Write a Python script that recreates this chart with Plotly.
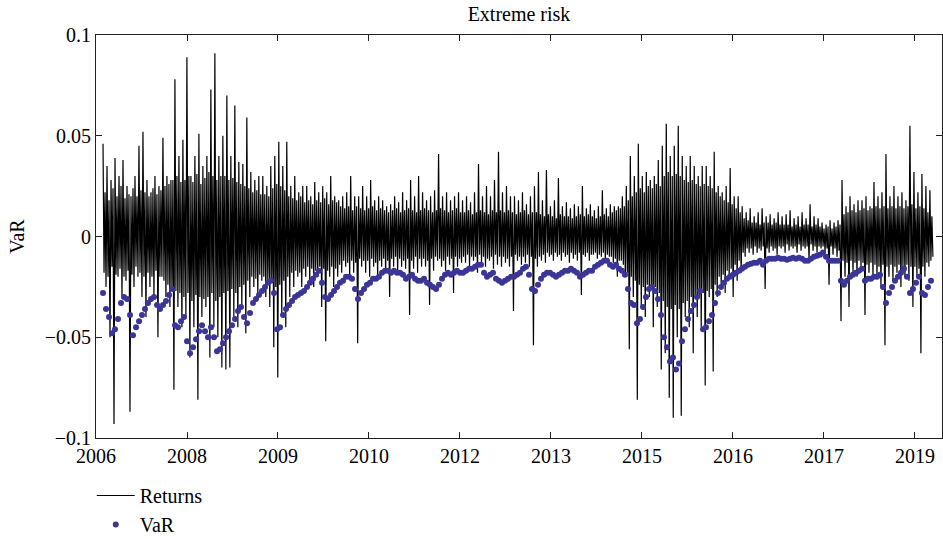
import plotly.graph_objects as go

# Tick positions (trading-day index) and their year labels
tick_days = [0, 350, 700, 1050, 1400, 1750, 2100, 2450, 2800, 3150]
tick_years = ["2006", "2008", "2009", "2010", "2012", "2013", "2015", "2016", "2017", "2019"]
first_day = 27
last_day = 3219
axis_end_day = 3254

returns = [
    .046, -.018, .022, -.025, .035, -.02, .018, -.05, .028, -.015, .024, -.093, .039, -.019, .02, -.02, .03, -.016, .025, -.03,
    .038, -.02, .019, -.022, .025, -.017, .021, -.087, .02, -.019, .024, -.025, .03, -.015, .02, -.02, .045, -.018, .023, -.03,
    .052, -.02, .022, -.04, .028, -.018, .02, -.025, .022, -.02, .024, -.03, .03, -.017, .021, -.05, .025, -.02, .023, -.02,
    .049, -.022, .025, -.03, .03, -.024, .026, -.035, .028, -.025, .028, -.076, .078, -.027, .03, -.035, .04, -.028, .027, -.045,
    .048, -.03, .028, -.04, .089, -.028, .03, -.06, .03, -.032, .027, -.045, .04, -.029, .031, -.081, .051, -.03, .026, -.04,
    .035, -.031, .029, -.035, .04, -.03, .032, -.06, .073, -.028, .03, -.045, .091, -.032, .028, -.05, .04, -.03, .03, -.065,
    .05, -.028, .03, -.066, .07, -.027, .028, -.065, .04, -.026, .029, -.04, .065, -.028, .027, -.045, .037, -.025, .026, -.035,
    .036, -.024, .025, -.048, .059, -.022, .024, -.03, .032, -.02, .022, -.025, .028, -.021, .023, -.03, .03, -.019, .021, -.022,
    .03, -.02, .021, -.03, .025, -.022, .02, -.035, .035, -.023, .024, -.055, .04, -.025, .026, -.07, .047, -.024, .025, -.04,
    .035, -.022, .023, -.045, .047, -.02, .02, -.03, .025, -.018, .019, -.025, .03, -.017, .018, -.02, .022, -.018, .02, -.025,
    .025, -.016, .017, -.02, .025, -.015, .018, -.022, .02, -.016, .016, -.025, .027, -.017, .018, -.02, .022, -.015, .017, -.035,
    .025, -.016, .019, -.052, .022, -.017, .016, -.02, .03, -.015, .018, -.025, .02, -.016, .017, -.02, .018, -.014, .015, -.018,
    .02, -.012, .014, -.015, .022, -.013, .015, -.02, .03, -.012, .013, -.018, .02, -.013, .015, -.053, .02, -.011, .014, -.015,
    .025, -.012, .013, -.018, .02, -.012, .014, -.02, .028, -.011, .015, -.015, .018, -.013, .013, -.02, .02, -.012, .014, -.015,
    .018, -.011, .013, -.018, .015, -.012, .012, -.03, .016, -.011, .013, -.015, .02, -.01, .014, -.018, .017, -.011, .012, -.015,
    .022, -.012, .013, -.016, .018, -.011, .014, -.039, .028, -.012, .013, -.016, .02, -.01, .012, -.018, .03, -.011, .013, -.015,
    .022, -.011, .014, -.015, .018, -.012, .013, -.034, .02, -.011, .012, -.017, .023, -.01, .013, -.012, .041, -.011, .014, -.015,
    .02, -.012, .013, -.017, .022, -.01, .012, -.014, .018, -.011, .013, -.028, .02, -.01, .014, -.015, .022, -.011, .012, -.013,
    .018, -.01, .012, -.013, .02, -.009, .013, -.015, .017, -.01, .011, -.012, .022, -.01, .012, -.018, .036, -.009, .013, -.013,
    .02, -.01, .012, -.015, .025, -.011, .011, -.012, .02, -.01, .013, -.016, .028, -.009, .012, -.014, .042, -.01, .013, -.015,
    .022, -.01, .012, -.013, .025, -.011, .013, -.015, .02, -.01, .012, -.037, .02, -.009, .011, -.012, .018, -.01, .012, -.014,
    .022, -.01, .013, -.013, .016, -.009, .011, -.015, .02, -.01, .012, -.054, .025, -.011, .012, -.015, .032, -.01, .011, -.012,
    .018, -.009, .01, -.013, .033, -.008, .011, -.01, .015, -.009, .01, -.012, .018, -.008, .009, -.01, .029, -.009, .011, -.012,
    .015, -.008, .01, -.01, .017, -.009, .01, -.013, .014, -.008, .009, -.011, .016, -.009, .01, -.012, .015, -.008, .011, -.029,
    .025, -.009, .01, -.01, .014, -.008, .011, -.012, .016, -.009, .01, -.009, .013, -.008, .009, -.011, .015, -.009, .01, -.01,
    .023, -.008, .011, -.012, .014, -.009, .01, -.01, .016, -.01, .012, -.013, .015, -.011, .013, -.02, .015, -.012, .014, -.012,
    .02, -.014, .015, -.02, .025, -.018, .018, -.056, .04, -.02, .02, -.03, .03, -.022, .022, -.081, .046, -.024, .024, -.035,
    .03, -.025, .022, -.04, .032, -.024, .025, -.03, .028, -.026, .024, -.045, .03, -.025, .026, -.035, .038, -.028, .025, -.066,
    .045, -.032, .03, -.058, .056, -.035, .032, -.08, .04, -.036, .03, -.09, .045, -.034, .031, -.05, .055, -.036, .03, -.089,
    .04, -.033, .028, -.04, .035, -.032, .027, -.045, .04, -.03, .028, -.058, .035, -.03, .026, -.04, .03, -.03, .025, -.045,
    .035, -.028, .026, -.074, .035, -.027, .025, -.03, .03, -.026, .024, -.067, .042, -.024, .022, -.03, .025, -.02, .02, -.025,
    .022, -.019, .018, -.028, .025, -.017, .017, -.02, .034, -.016, .016, -.03, .02, -.014, .014, -.022, .02, -.012, .012, -.018,
    .015, -.008, .009, -.01, .012, -.006, .008, -.008, .014, -.006, .007, -.009, .01, -.005, .007, -.008, .012, -.006, .006, -.007,
    .014, -.005, .007, -.026, .01, -.006, .007, -.008, .011, -.005, .006, -.007, .009, -.006, .007, -.009, .012, -.005, .006, -.006,
    .01, -.005, .006, -.008, .011, -.004, .006, -.007, .013, -.005, .005, -.006, .009, -.005, .006, -.008, .01, -.004, .005, -.007,
    .012, -.005, .006, -.006, .009, -.005, .006, -.012, .016, -.004, .005, -.007, .01, -.005, .006, -.008, .009, -.005, .005, -.006,
    .007, -.005, .004, -.008, .006, -.006, .005, -.024, .008, -.005, .004, -.009, .007, -.006, .005, -.01, .008, -.007, .006, -.042,
    .028, -.012, .011, -.02, .015, -.013, .012, -.035, .02, -.012, .013, -.018, .016, -.013, .012, -.02, .018, -.012, .013, -.015,
    .018, -.013, .014, -.039, .02, -.014, .013, -.018, .015, -.013, .014, -.02, .027, -.014, .015, -.02, .02, -.015, .014, -.025,
    .022, -.014, .015, -.054, .041, -.015, .014, -.02, .02, -.014, .015, -.022, .025, -.015, .014, -.018, .02, -.014, .015, -.025,
    .022, -.015, .014, -.02, .018, -.014, .015, -.022, .055, -.015, .016, -.035, .032, -.015, .014, -.02, .022, -.016, .015, -.058,
    .031, -.015, .014, -.02, .025, -.013, .012, -.015, .023, -.012, .01, -.01,
]

var_values = [
    -0.028, -0.036, -0.040, -0.048, -0.046, -0.041, -0.033, -0.030, -0.031, -0.039,
    -0.049, -0.045, -0.042, -0.039, -0.036, -0.033, -0.031, -0.030, -0.034, -0.036,
    -0.034, -0.032, -0.029, -0.026, -0.044, -0.045, -0.042, -0.040, -0.052, -0.058,
    -0.055, -0.051, -0.047, -0.044, -0.047, -0.050, -0.045, -0.050, -0.057, -0.056,
    -0.053, -0.050, -0.047, -0.044, -0.041, -0.037, -0.035, -0.040, -0.043, -0.038,
    -0.033, -0.031, -0.029, -0.027, -0.025, -0.023, -0.022, -0.028, -0.046, -0.045,
    -0.039, -0.036, -0.034, -0.032, -0.030, -0.029, -0.028, -0.027, -0.025, -0.023,
    -0.021, -0.019, -0.017, -0.023, -0.030, -0.031, -0.029, -0.027, -0.025, -0.023,
    -0.022, -0.020, -0.020, -0.021, -0.026, -0.031, -0.028, -0.026, -0.024, -0.023,
    -0.021, -0.021, -0.020, -0.018, -0.017, -0.017, -0.018, -0.017, -0.018, -0.018,
    -0.019, -0.021, -0.020, -0.019, -0.021, -0.022, -0.022, -0.021, -0.023, -0.024,
    -0.025, -0.026, -0.024, -0.021, -0.019, -0.018, -0.019, -0.018, -0.017, -0.018,
    -0.018, -0.017, -0.016, -0.016, -0.015, -0.014, -0.014, -0.018, -0.020, -0.019,
    -0.018, -0.021, -0.022, -0.023, -0.022, -0.021, -0.020, -0.020, -0.019, -0.018,
    -0.016, -0.015, -0.019, -0.026, -0.027, -0.024, -0.021, -0.019, -0.018, -0.018,
    -0.019, -0.020, -0.019, -0.018, -0.017, -0.017, -0.016, -0.017, -0.018, -0.020,
    -0.019, -0.018, -0.017, -0.017, -0.015, -0.014, -0.013, -0.012, -0.012, -0.014,
    -0.015, -0.014, -0.016, -0.017, -0.019, -0.026, -0.033, -0.034, -0.043, -0.041,
    -0.035, -0.030, -0.026, -0.025, -0.027, -0.031, -0.039, -0.050, -0.055, -0.062,
    -0.060, -0.066, -0.063, -0.052, -0.046, -0.041, -0.037, -0.034, -0.030, -0.027,
    -0.046, -0.045, -0.042, -0.039, -0.033, -0.028, -0.025, -0.023, -0.021, -0.020,
    -0.019, -0.018, -0.017, -0.016, -0.015, -0.014, -0.0135, -0.013, -0.013, -0.012,
    -0.014, -0.012, -0.011, -0.011, -0.011, -0.0105, -0.011, -0.011, -0.0115, -0.011,
    -0.0105, -0.011, -0.0105, -0.011, -0.012, -0.012, -0.011, -0.010, -0.0095, -0.009,
    -0.008, -0.010, -0.012, -0.012, -0.012, -0.012, -0.022, -0.024, -0.022, -0.020,
    -0.019, -0.018, -0.017, -0.016, -0.022, -0.021, -0.021, -0.020, -0.020, -0.019,
    -0.025, -0.033, -0.028, -0.025, -0.022, -0.020, -0.018, -0.016, -0.020, -0.028,
    -0.026, -0.023, -0.020, -0.028, -0.029, -0.025, -0.022,
]

y_ticks = [-0.1, -0.05, 0, 0.05, 0.1]
y_tick_text = ["\u22120.1", "\u22120.05", "0", "0.05", "0.1"]


def spread(n, a, b):
    step = (b - a) / (n - 1)
    return [a + k * step for k in range(n)]


ret_x = spread(len(returns), first_day, last_day)
var_x = spread(len(var_values), first_day, first_day + (len(var_values) - 1) * 3 * 350 / 91)

FONT = "Liberation Serif"

fig = go.Figure()
fig.add_trace(go.Scatter(
    x=ret_x, y=returns, mode="lines", name="Returns",
    line=dict(color="black", width=1.2, simplify=False),
))
fig.add_trace(go.Scatter(
    x=var_x, y=var_values, mode="markers", name="VaR",
    marker=dict(color="#3a3596", size=6, line=dict(width=0)),
))

axis_common = dict(
    showline=True, linecolor="#222", linewidth=1, mirror="ticks",
    ticks="inside", ticklen=6, tickcolor="#222", showgrid=False, zeroline=False,
    automargin=False,
    tickfont=dict(family=FONT, size=20, color="black"),
)

fig.update_layout(
    width=943, height=539,
    margin=dict(l=96, r=1, t=35, b=101),
    paper_bgcolor="white", plot_bgcolor="white",
    font=dict(family=FONT, size=20, color="black"),
    title=dict(text="Extreme risk", x=0.5, xref="paper", xanchor="center",
               y=1 - 14 / 539, yref="container", yanchor="middle",
               font=dict(family=FONT, size=20, color="black")),
    xaxis=dict(range=[0, axis_end_day], tickvals=tick_days, ticktext=tick_years, **axis_common),
    yaxis=dict(range=[-0.1, 0.1], tickvals=y_ticks, ticktext=y_tick_text,
               title=dict(text="VaR", standoff=14, font=dict(family=FONT, size=20)), **axis_common),
    showlegend=True,
    legend=dict(x=-0.005, xanchor="left", xref="paper", y=1 - 476 / 539, yanchor="top", yref="container",
                bgcolor="rgba(0,0,0,0)", itemwidth=38,
                font=dict(family=FONT, size=20, color="black"), tracegroupgap=0),
)

fig.write_html("out.html", config={"displayModeBar": False},
               post_script="document.body.style.margin='0';")
